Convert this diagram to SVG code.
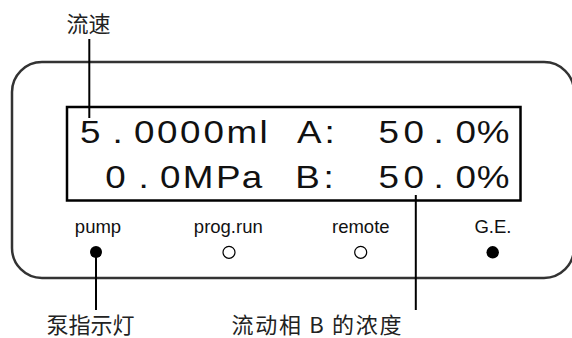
<svg xmlns="http://www.w3.org/2000/svg" width="572" height="338" viewBox="0 0 572 338">
<style>
.lbl{font-family:"Noto Sans CJK SC","Liberation Sans",sans-serif;font-size:22px;fill:#222}
.ind{font-family:"Liberation Sans",Arial,sans-serif;font-size:18.5px;fill:#111;text-anchor:middle}
.lcd{font-family:"Liberation Sans",Arial,sans-serif;font-size:32px;fill:#111}
.lead{stroke:#000;stroke-width:2;fill:none}
.led-off{fill:#fff;stroke:#000;stroke-width:1.2}
.led-on{fill:#000}
</style>
<rect width="572" height="338" fill="#fff"/>
<g id="panel">
<rect x="12" y="62" width="562" height="216" rx="30" ry="30" fill="none" stroke="#333" stroke-width="2.5"/>
</g>
<g id="display">
<rect x="67" y="107" width="453.5" height="93.5" fill="none" stroke="#000" stroke-width="2.5"/>
<text class="lcd" transform="scale(1.15,1)" y="143" x="69.65 97.91 107 116.52 136.52 156.52 176.96 197.04 225.65 245 258.26 282.26 300 329.04 350.87 377.04 386 396.09 414.52">5. 0000ml A: 50. 0%</text>
<text class="lcd" transform="scale(1.15,1)" y="188" x="91.48 120.52 130 139.13 158.96 187.91 210.17 235 256.78 281.39 300 329.04 350.87 377.04 386 396.09 414.52">0. 0MPa B: 50. 0%</text>
</g>
<g id="pump">
<text class="ind" x="98" y="233">pump</text>
<circle class="led-on" cx="96" cy="252" r="6"/>
</g>
<g id="progrun">
<text class="ind" x="228.3" y="233">prog.run</text>
<circle class="led-off" cx="229" cy="252.3" r="6"/>
</g>
<g id="remote">
<text class="ind" x="360.8" y="233">remote</text>
<circle class="led-off" cx="360.7" cy="252.3" r="6"/>
</g>
<g id="ge">
<text class="ind" x="493" y="233">G.E.</text>
<circle class="led-on" cx="492.7" cy="252.3" r="6.2"/>
</g>
<g id="label-flow">
<text class="lbl" x="66.5" y="31.5">流速</text>
</g>
<g id="label-pump">
<text class="lbl" x="46.5" y="333">泵指示灯</text>
</g>
<g id="label-b">
<text class="lbl" x="231.5" y="333" textLength="170" lengthAdjust="spacing">流动相 B 的浓度</text>
</g>
<g id="connectors">
<line class="lead" x1="89.3" y1="39" x2="89.3" y2="118"/>
<line class="lead" x1="96" y1="252" x2="96" y2="310"/>
<line class="lead" x1="415.8" y1="195" x2="415.8" y2="310"/>
</g>
</svg>
